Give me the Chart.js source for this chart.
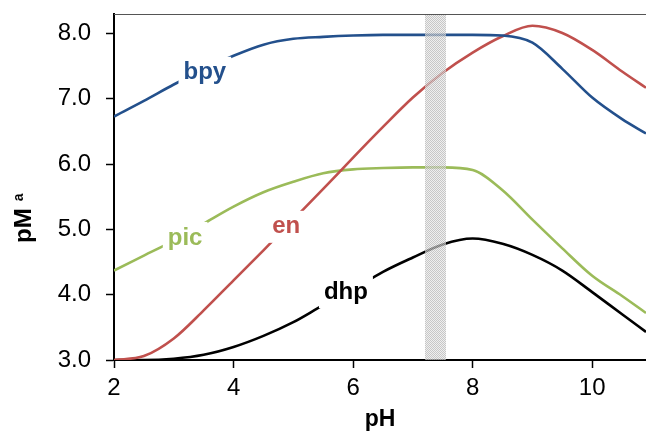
<!DOCTYPE html>
<html>
<head>
<meta charset="utf-8">
<script src="https://cdn.jsdelivr.net/npm/chart.js@4.4.1/dist/chart.umd.min.js"></script>
<style>
  html, body { margin: 0; padding: 0; background: #fff; }
  #wrap { width: 646px; height: 435px; }
</style>
</head>
<body>
<div id="wrap"><canvas id="chart" width="646" height="435"></canvas></div>
<script>
// pH sample points shared by every curve
var phValues = [2, 2.5, 3, 3.5, 4, 4.5, 5, 5.5, 6, 6.5, 7, 7.5, 8, 8.5, 9, 9.5, 10, 10.5, 10.9];

// pM values
var bpy = [6.73, 6.97, 7.22, 7.45, 7.66, 7.83, 7.92, 7.95, 7.97, 7.98, 7.98, 7.98, 7.98, 7.97, 7.86, 7.46, 7.02, 6.69, 6.47];
var en  = [3.00, 3.06, 3.33, 3.76, 4.22, 4.68, 5.15, 5.62, 6.10, 6.57, 7.02, 7.40, 7.71, 7.96, 8.12, 8.01, 7.75, 7.42, 7.17];
var pic = [4.37, 4.60, 4.83, 5.09, 5.35, 5.57, 5.73, 5.86, 5.92, 5.94, 5.95, 5.95, 5.91, 5.60, 5.15, 4.71, 4.29, 3.98, 3.72];
var dhp = [3.00, 3.00, 3.02, 3.08, 3.20, 3.37, 3.58, 3.84, 4.08, 4.35, 4.57, 4.77, 4.86, 4.78, 4.61, 4.37, 4.04, 3.70, 3.43];

var xTicks = [2, 4, 6, 8, 10];
var yTicks = [3, 4, 5, 6, 7, 8];

// physiological pH band
var bandRange = [7.2, 7.55];

// in-plot curve labels: name and [pH, pM] of the label centre
var curveNames = ['bpy', 'pic', 'en', 'dhp'];
var curveLabelAt = [[3.52, 7.40], [3.19, 4.87], [4.88, 5.04], [5.88, 4.04]];
var curveColors = { bpy: '#23508C', en: '#C0504D', pic: '#9BBB59', dhp: '#000000' };

var FONT = "'Liberation Sans', Arial, sans-serif";

function pts(arr) {
  return phValues.map(function(x, i) { return { x: x, y: arr[i] }; });
}

function makeSet(name, arr) {
  return {
    label: name,
    data: pts(arr),
    borderColor: curveColors[name],
    borderWidth: 2.6,
    pointRadius: 0,
    fill: false,
    cubicInterpolationMode: 'monotone'
  };
}

function bandPattern(ctx) {
  var c = document.createElement('canvas');
  c.width = 2; c.height = 2;
  var p = c.getContext('2d');
  p.fillStyle = 'rgba(175,175,175,0.7)';
  p.fillRect(0, 0, 1, 1); p.fillRect(1, 1, 1, 1);
  p.fillStyle = 'rgba(232,232,232,0.7)';
  p.fillRect(1, 0, 1, 1); p.fillRect(0, 1, 1, 1);
  return ctx.createPattern(c, 'repeat');
}

var decor = {
  id: 'decor',
  afterDatasetsDraw: function(chart) {
    var ctx = chart.ctx, a = chart.chartArea;
    var xs = chart.scales.x, ys = chart.scales.y;
    ctx.save();
    // shaded band
    var x0 = Math.round(xs.getPixelForValue(bandRange[0]));
    var x1 = Math.round(xs.getPixelForValue(bandRange[1]));
    ctx.fillStyle = bandPattern(ctx);
    ctx.fillRect(x0, a.top, x1 - x0, a.bottom - a.top);
    // top frame line
    ctx.strokeStyle = '#555';
    ctx.lineWidth = 1;
    ctx.beginPath();
    ctx.moveTo(a.left, Math.round(a.top) + 0.5);
    ctx.lineTo(a.right, Math.round(a.top) + 0.5);
    ctx.stroke();
    // curve labels on white boxes
    ctx.font = 'bold 24px ' + FONT;
    ctx.textAlign = 'center';
    ctx.textBaseline = 'middle';
    curveNames.forEach(function(n, i) {
      var cx = xs.getPixelForValue(curveLabelAt[i][0]);
      var cy = ys.getPixelForValue(curveLabelAt[i][1]);
      var w = ctx.measureText(n).width + 10;
      ctx.fillStyle = '#fff';
      ctx.fillRect(cx - w / 2, cy - 16, w, 32);
      ctx.fillStyle = curveColors[n];
      ctx.fillText(n, cx, cy);
    });
    ctx.restore();
  },
  afterDraw: function(chart) {
    // y axis title "pM" with superscript a
    var ctx = chart.ctx;
    ctx.save();
    ctx.translate(31, 243);
    ctx.rotate(-Math.PI / 2);
    ctx.fillStyle = '#000';
    ctx.textAlign = 'left';
    ctx.textBaseline = 'alphabetic';
    ctx.font = 'bold 24px ' + FONT;
    ctx.fillText('pM', 0, 0);
    var w = ctx.measureText('pM').width;
    ctx.font = 'bold 14px ' + FONT;
    ctx.fillText('a', w + 7, -8);
    ctx.restore();
  }
};

new Chart(document.getElementById('chart'), {
  type: 'line',
  data: {
    datasets: [makeSet('bpy', bpy), makeSet('en', en), makeSet('pic', pic), makeSet('dhp', dhp)]
  },
  options: {
    responsive: false,
    animation: false,
    devicePixelRatio: 1,
    layout: { padding: 0 },
    plugins: { legend: { display: false }, tooltip: { enabled: false } },
    scales: {
      x: {
        type: 'linear',
        min: 2,
        max: 10.9,
        afterBuildTicks: function(s) { s.ticks = xTicks.map(function(v) { return { value: v }; }); },
        afterFit: function(s) { s.height = 75; },
        ticks: { color: '#000', font: { family: FONT, size: 24 }, padding: 6, maxRotation: 0 },
        grid: { drawOnChartArea: false, drawTicks: true, tickLength: 8, color: '#000', tickWidth: 1.5 },
        border: { color: '#000', width: 2 },
        title: { display: true, text: 'pH', color: '#000', font: { family: FONT, size: 23, weight: 'bold' }, padding: { top: 0, bottom: 2 } }
      },
      y: {
        min: 3,
        max: 8.3,
        afterBuildTicks: function(s) { s.ticks = yTicks.map(function(v) { return { value: v }; }); },
        afterFit: function(s) { s.width = 114; s.paddingTop = 14; },
        ticks: { color: '#000', font: { family: FONT, size: 24 }, padding: 15, callback: function(v) { return v.toFixed(1); } },
        grid: { drawOnChartArea: false, drawTicks: true, tickLength: 8, color: '#000', tickWidth: 1.5 },
        border: { color: '#000', width: 2 }
      }
    }
  },
  plugins: [decor]
});
</script>
</body>
</html>
